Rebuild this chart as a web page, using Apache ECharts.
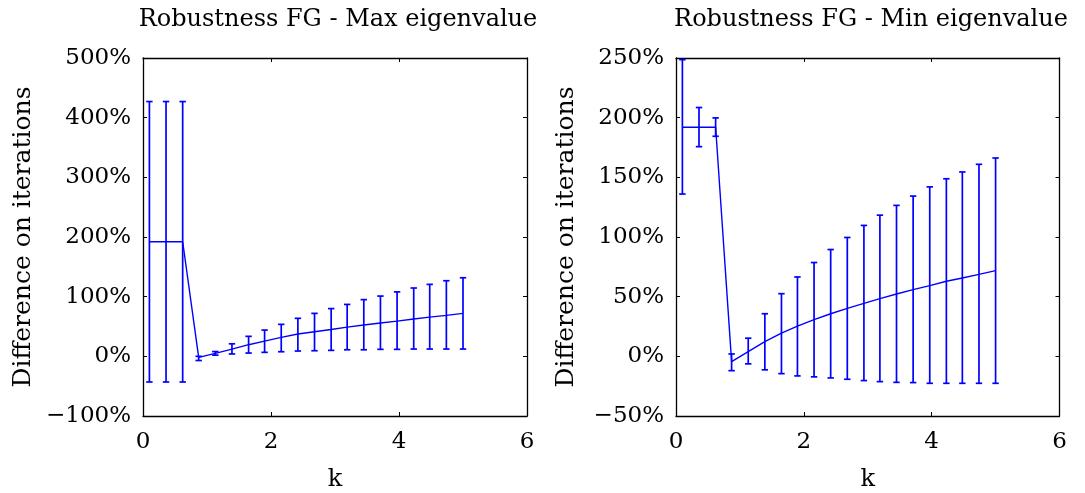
<!DOCTYPE html>
<html>
<head>
<meta charset="utf-8">
<script src="https://cdn.jsdelivr.net/npm/echarts@6/dist/echarts.min.js"></script>
<style>html,body{margin:0;padding:0;background:#fff}#c{width:1085px;height:493px}</style>
</head>
<body>
<div id="c"></div>
<script>
// ---- data ----
const kValues = [0.1, 0.36, 0.62, 0.87, 1.13, 1.39, 1.65, 1.9, 2.16, 2.42, 2.68, 2.94, 3.19, 3.45, 3.71, 3.97, 4.23, 4.48, 4.74, 5.0];

const maxMean = [192, 192, 192, -1.7, 5, 12, 19.5, 25.6, 31.8, 37.4, 41.3, 45, 49, 52.5, 55.8, 59, 62.5, 65.8, 68.7, 72];
const maxLow  = [-43, -43, -43, -7, 2, 4, 5.5, 6.7, 7.7, 8.9, 9.4, 10, 11, 11, 11.7, 11.7, 12.2, 12.2, 12.2, 12.2];
const maxHigh = [427, 427, 427, 0, 8, 21, 33.5, 44, 53.6, 63.7, 72, 80, 87, 95, 101, 108, 114.5, 120.6, 126.7, 131.7];

const minMean = [192, 192, 192, -4.4, 4, 12.4, 19.4, 25.3, 30.7, 35.7, 40.2, 44.4, 48.3, 52.2, 55.9, 59.2, 62.9, 65.6, 68.7, 71.8];
const minLow  = [136, 175.7, 184.4, -12, -6.3, -11.3, -14.5, -16.4, -17.2, -18.1, -19.2, -20.3, -21.2, -21.8, -22, -22.6, -22.6, -22.6, -22.6, -22.6];
const minHigh = [248.6, 208.5, 199.8, 2, 15.2, 35.7, 52.5, 66.5, 78.6, 89.5, 99.6, 109.7, 118.3, 126.5, 134.3, 142, 148.8, 154.5, 160.9, 166.2];

const xTicks = [0, 2, 4, 6];
const yTicksMax = [-100, 0, 100, 200, 300, 400, 500];
const yTicksMin = [-50, 0, 50, 100, 150, 200, 250];

const titles = ['Robustness FG - Max eigenvalue', 'Robustness FG - Min eigenvalue'];
const yName = 'Difference on iterations';
const xName = 'k';

// ---- chart ----
const FONT = 'DejaVu Serif';
const BLUE = '#0000ff';
const chart = echarts.init(document.getElementById('c'));

function pct(v) { return (v < 0 ? '\u2212' + Math.abs(v) : String(v)) + '%'; }

const grids = [
  { left: 143, right: 558, top: 58, bottom: 77, outerBoundsMode: 'none', containLabel: false },
  { left: 676, right: 25.5, top: 58, bottom: 77, outerBoundsMode: 'none', containLabel: false }
];

const xAxes = [], yAxes = [];
[0, 1].forEach(g => {
  const base = {
    gridIndex: g, type: 'value', min: xTicks[0], max: xTicks[xTicks.length - 1],
    interval: xTicks[1] - xTicks[0],
    axisLine: { show: true, onZero: false, lineStyle: { color: '#000', width: 1.3 } },
    axisTick: { show: true, inside: true, length: 4, lineStyle: { color: '#000', width: 1 } },
    splitLine: { show: false }
  };
  xAxes.push(Object.assign({}, base, {
    position: 'bottom',
    name: xName, nameLocation: 'middle', nameGap: 52,
    nameTextStyle: { fontFamily: FONT, fontSize: 24, color: '#000' },
    axisLabel: { fontFamily: FONT, fontSize: 23, color: '#000', margin: 15 }
  }));
  xAxes.push(Object.assign({}, base, { position: 'top', axisLabel: { show: false } }));

  const yt = g === 0 ? yTicksMax : yTicksMin;
  const ybase = {
    gridIndex: g, type: 'value', min: yt[0], max: yt[yt.length - 1], interval: yt[1] - yt[0],
    axisLine: { show: true, onZero: false, lineStyle: { color: '#000', width: 1.3 } },
    axisTick: { show: true, inside: true, length: 4, lineStyle: { color: '#000', width: 1 } },
    splitLine: { show: false }
  };
  yAxes.push(Object.assign({}, ybase, {
    position: 'left',
    name: yName, nameLocation: 'middle', nameGap: g === 0 ? 107 : 97, nameRotate: 90,
    nameTextStyle: { fontFamily: FONT, fontSize: 25, color: '#000' },
    axisLabel: { fontFamily: FONT, fontSize: 23, color: '#000', margin: 12, formatter: pct }
  }));
  yAxes.push(Object.assign({}, ybase, { position: 'right', axisLabel: { show: false } }));
});

function errData(lo, hi) { return kValues.map((k, i) => [k, lo[i], hi[i]]); }
function lineData(m) { return kValues.map((k, i) => [k, m[i]]); }

function renderErr(params, api) {
  const x = api.value(0);
  const top = api.coord([x, api.value(2)]);
  const bot = api.coord([x, api.value(1)]);
  const w = 3.2;
  const style = { stroke: BLUE, lineWidth: 1.7 };
  return {
    type: 'group',
    children: [
      { type: 'line', shape: { x1: top[0], y1: top[1], x2: bot[0], y2: bot[1] }, style },
      { type: 'line', shape: { x1: top[0] - w, y1: top[1], x2: top[0] + w, y2: top[1] }, style },
      { type: 'line', shape: { x1: bot[0] - w, y1: bot[1], x2: bot[0] + w, y2: bot[1] }, style }
    ]
  };
}

const series = [];
[[maxMean, maxLow, maxHigh], [minMean, minLow, minHigh]].forEach((d, g) => {
  series.push({
    type: 'custom', xAxisIndex: g * 2, yAxisIndex: g * 2,
    renderItem: renderErr, data: errData(d[1], d[2]), encode: { x: 0, y: [1, 2] },
    silent: true, clip: false, z: 3
  });
  series.push({
    type: 'line', xAxisIndex: g * 2, yAxisIndex: g * 2, data: lineData(d[0]),
    showSymbol: false, symbol: 'none', lineStyle: { color: BLUE, width: 1.4 }, silent: true, z: 4
  });
});

chart.setOption({
  animation: false,
  backgroundColor: '#fff',
  title: titles.map((t, i) => ({
    text: t, left: i === 0 ? 333 : 866, top: 3, textAlign: 'center',
    textStyle: { fontFamily: FONT, fontSize: 24, fontWeight: 'normal', color: '#000' }
  })),
  grid: grids,
  xAxis: xAxes,
  yAxis: yAxes,
  series
});
</script>
</body>
</html>
